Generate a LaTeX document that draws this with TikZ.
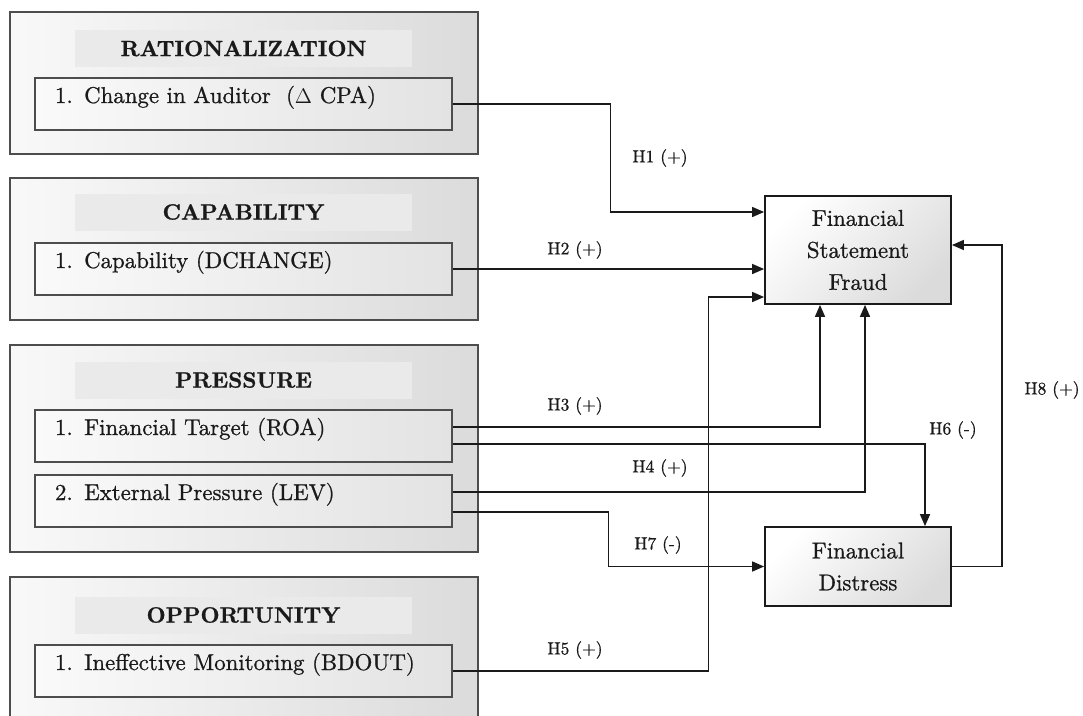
\documentclass[tikz,border=0pt]{standalone}
\usepackage{fontspec}
\setmainfont{lmroman10-regular.otf}[BoldFont=lmroman10-bold.otf,FakeBold=0.9]
\usepackage{tikz}
\usetikzlibrary{arrows.meta,positioning}
\definecolor{edgec}{HTML}{4D4D4D}
\definecolor{inkc}{HTML}{1A1A1A}
\definecolor{bandc}{HTML}{EAEAEA}
\tikzset{
  ar/.style={-{Triangle[length=2.4mm,width=2mm]},line width=0.85pt,inkc},
  outer/.style={draw=edgec,line width=0.8pt,left color=gray!5,right color=gray!28,minimum width=93.6mm,inner sep=0pt},
  band/.style={fill=bandc,minimum width=67.4mm,minimum height=7.4mm,inner sep=0pt,text=inkc,font=\fontsize{12.6}{15}\selectfont\bfseries},
  item/.style={draw=edgec,line width=0.8pt,left color=gray!4,right color=gray!22,text width=75.4mm,inner xsep=4mm,inner ysep=0pt,text height=5mm,text depth=5.4mm,align=left,text=inkc,font=\fontsize{13}{15}\selectfont},
  target/.style={draw=inkc,line width=1pt,top color=white,bottom color=gray!28,shading angle=45,minimum width=37.2mm,inner sep=0pt,align=center,text=inkc,font=\fontsize{13}{18.2}\selectfont},
  hyp/.style={text=inkc,font=\fontsize{10}{12}\selectfont}
}
\begin{document}
\begin{tikzpicture}[x=0.2mm,y=-0.2mm]
\useasboundingbox (0,0) rectangle (1083,715);
\clip (0,0) rectangle (1083,715);
% fraud triangle groups
\node[outer,minimum height=28.4mm] (ratB) at (244,83) {};
\node[outer,minimum height=28.4mm] (capB) at (244,249) {};
\node[outer,minimum height=41.4mm] (preB) at (244,448.5) {};
\node[outer,minimum height=30mm] (oppB) at (244,652) {};
\node[band] (ratT) at (243.5,48.5) {RATIONALIZATION};
\node[band] (capT) at (243.5,212) {CAPABILITY};
\node[band] (preT) at (243.5,380) {PRESSURE};
\node[band] (oppT) at (243.5,615) {OPPORTUNITY};
% indicators
\node[item] (cpa) at (243.5,104) {1. Change in Auditor \ ($\Delta$ CPA)};
\node[item] (dch) at (243.5,269) {1. Capability (DCHANGE)};
\node[item] (roa) at (243.5,436) {1. Financial Target (ROA)};
\node[item] (lev) at (243.5,501) {2. External Pressure (LEV)};
\node[item] (bdo) at (243.5,671) {1. Ineffective Monitoring (BDOUT)};
% outcomes
\node[target,minimum height=21.6mm] (fsf) at (858,250) {Financial\\Statement\\Fraud};
\node[target,minimum height=15.8mm] (fd) at (858,566.5) {Financial\\Distress};
% hypotheses
\draw[ar] (cpa.east) -- ++(158,0) |- ([yshift=7.6mm]fsf.west);
\draw[ar] (dch.east) -- (dch.east -| fsf.west);
\draw[ar] ([yshift=1.8mm]roa.east) -| ([xshift=-7.6mm]fsf.south);
\draw[ar] ([yshift=-1.6mm]roa.east) -| ([xshift=13.4mm]fd.north);
\draw[ar] ([yshift=1.8mm]lev.east) -| ([xshift=1.4mm]fsf.south);
\draw[ar] ([yshift=-2.2mm]lev.east) -- ++(156,0) |- (fd.west);
\draw[ar] (bdo.east) -- ++(256,0) |- ([yshift=-9.4mm]fsf.west);
\draw[ar] (fd.east) -- ++(50,0) |- ([yshift=1mm]fsf.east);
\node[hyp] (h1) at (660,158) {H1 (+)};
\node[hyp] (h2) at (575,250) {H2 (+)};
\node[hyp] (h3) at (575,406) {H3 (+)};
\node[hyp] (h4) at (660,468) {H4 (+)};
\node[hyp] (h5) at (575,650) {H5 (+)};
\node[hyp] (h6) at (953,430) {H6 (-)};
\node[hyp] (h7) at (658,545) {H7 (-)};
\node[hyp] (h8) at (1052,390) {H8 (+)};
\end{tikzpicture}
\end{document}
